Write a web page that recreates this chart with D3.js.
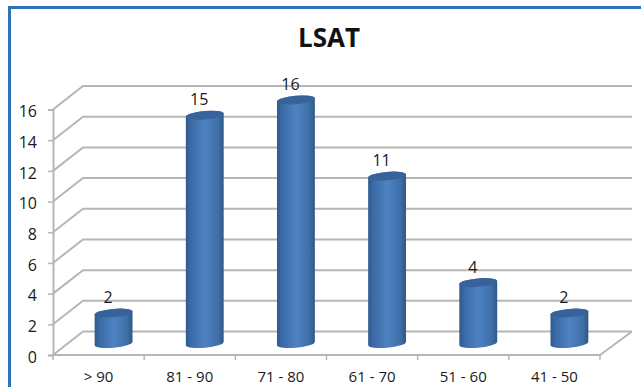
<!DOCTYPE html>
<html>
<head>
<meta charset="utf-8">
<script src="https://cdnjs.cloudflare.com/ajax/libs/d3/7.8.5/d3.min.js"></script>
<style>
  html, body { margin: 0; padding: 0; background: #fff; }
  svg { display: block; }
  text { font-family: "Open Sans", "Noto Sans", sans-serif; fill: #1a1a1a; }
</style>
</head>
<body>
<svg id="chart" width="641" height="387"></svg>
<script>
// LSAT score distribution, drawn as a 3D-style cylinder column chart
const chartTitle = "LSAT";
const categories = ["> 90", "81 - 90", "71 - 80", "61 - 70", "51 - 60", "41 - 50"];
const counts = [2, 15, 16, 11, 4, 2];
const yTicks = [0, 2, 4, 6, 8, 10, 12, 14, 16];

const svg = d3.select("#chart");

// Front plane of the chart box, and the shift to its back wall
const x = d3.scaleBand().domain(categories).range([53, 600]);
const y = d3.scaleLinear().domain([0, 16]).range([355, 109.5]);
// Columns stand mid-depth, where the perspective makes a unit slightly shorter
const yBar = d3.scaleLinear().domain([0, 16]).range([343.5, 100]);
const depth = { dx: 30, dy: -23.5 };
const midDx = 15;
const wallColor = "#b6b6b6";

// Frame around the chart area: top and left edges only
svg.append("path")
  .attr("d", "M9.5,387V7.5H641")
  .attr("fill", "none").attr("stroke", "#2e75b6").attr("stroke-width", 3);

svg.append("text")
  .attr("x", 329).attr("y", 47)
  .attr("text-anchor", "middle")
  .attr("font-size", 26).attr("font-weight", 700)
  .style("fill", "#111")
  .text(chartTitle);

// Back wall gridlines and the matching diagonals on the side wall
const grid = svg.append("g").attr("fill", "none").attr("stroke", wallColor).attr("stroke-width", 2);
yTicks.forEach(t => {
  const yy = y(t);
  grid.append("path").attr("d", d3.line()([
    [x.range()[0], yy],
    [x.range()[0] + depth.dx, yy + depth.dy],
    [632, yy + depth.dy]
  ]));
});
// Floor edges
grid.append("path").attr("d", d3.line()([
  [x.range()[0], y(0)], [x.range()[1], y(0)], [632, y(0) + depth.dy]
]));

// Value axis on the front-left edge
const yAxis = d3.axisLeft(y).tickValues(yTicks).tickSize(5).tickPadding(11);
const yG = svg.append("g").attr("transform", "translate(53,0)").call(yAxis);
yG.select(".domain").attr("stroke", wallColor).attr("stroke-width", 2);
yG.selectAll(".tick line").attr("stroke", wallColor).attr("stroke-width", 1.5);
yG.selectAll("text").attr("font-size", 16).attr("y", 2).style("font-family", '"Open Sans", sans-serif');

// Category axis along the front floor edge
const xAxis = d3.axisBottom(x).tickSizeOuter(0).tickSize(0).tickPadding(16.5);
const xG = svg.append("g").attr("transform", `translate(0,${y(0)})`).call(xAxis);
xG.select(".domain").remove();
xG.selectAll("text").attr("font-size", 15).style("font-family", '"Open Sans", sans-serif');
svg.append("g").selectAll("line")
  .data(categories.concat(["end"]))
  .join("line")
  .attr("x1", (d, i) => x.range()[0] + i * x.step())
  .attr("x2", (d, i) => x.range()[0] + i * x.step())
  .attr("y1", y(0)).attr("y2", y(0) + 5)
  .attr("stroke", wallColor).attr("stroke-width", 1.5);

// Cylinder shading
const defs = svg.append("defs");
const body = defs.append("linearGradient").attr("id", "cyl").attr("x1", 0).attr("x2", 1).attr("y1", 0).attr("y2", 0);
[[0, "#2f5a8e"], [0.14, "#3b6ba6"], [0.5, "#4f82c2"], [0.85, "#3e6fa9"], [1, "#2f5885"]].forEach(([o, c]) =>
  body.append("stop").attr("offset", o).attr("stop-color", c));

const rx = 19, ry = 4.2, tilt = 5;
const dxT = rx * Math.cos(tilt * Math.PI / 180), dyT = rx * Math.sin(tilt * Math.PI / 180);

const bars = svg.append("g").selectAll("g")
  .data(categories.map((c, i) => ({ c, v: counts[i] })))
  .join("g")
  .attr("transform", d => `translate(${x(d.c) + x.bandwidth() / 2 + midDx},0)`);

// Side of the cylinder, from the base ellipse up to the top ellipse
bars.append("path")
  .attr("fill", "url(#cyl)")
  .attr("d", d => {
    const b = yBar(0), t = yBar(d.v);
    return `M${-dxT},${t + dyT}L${-dxT},${b + dyT}` +
      `A${rx},${ry} ${-tilt} 0 0 ${dxT},${b - dyT}` +
      `L${dxT},${t - dyT}` +
      `A${rx},${ry} ${-tilt} 0 0 ${-dxT},${t + dyT}Z`;
  });

// Top cap
bars.append("ellipse")
  .attr("rx", rx).attr("ry", ry)
  .attr("fill", "#38639a")
  .attr("transform", d => `translate(0,${yBar(d.v)}) rotate(${-tilt})`);

// Value labels above each column
bars.append("text")
  .attr("x", -5.5)
  .attr("y", d => yBar(d.v) - 10)
  .attr("text-anchor", "middle")
  .attr("font-size", 16)
  .text(d => d.v);
</script>
</body>
</html>
